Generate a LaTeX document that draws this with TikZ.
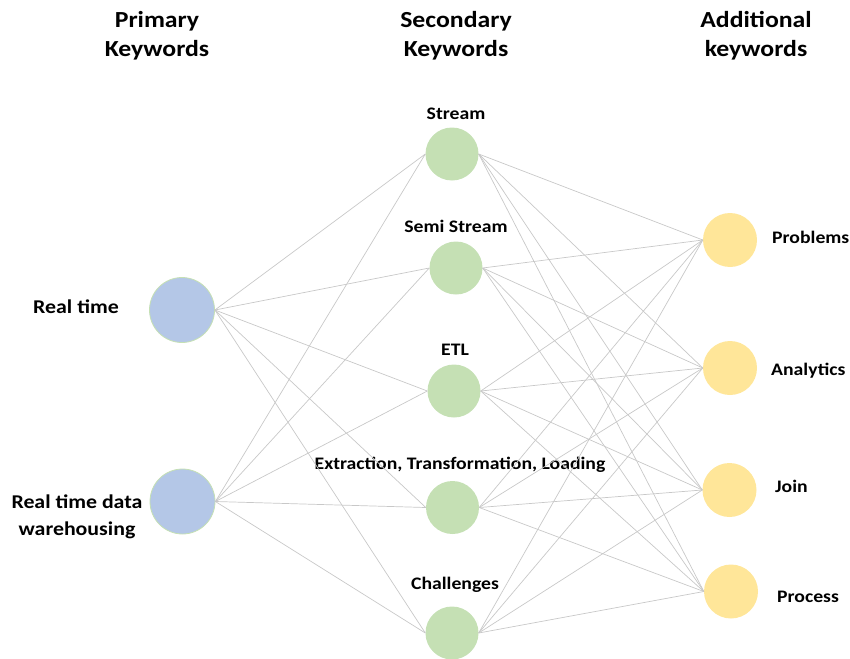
\documentclass[tikz,border=0pt]{standalone}
\usepackage{fontspec}
\setmainfont[FakeStretch=1.12]{Carlito}
\definecolor{primfill}{RGB}{180,199,231}
\definecolor{primedge}{RGB}{197,224,180}
\definecolor{secfill}{RGB}{197,224,180}
\definecolor{addfill}{RGB}{255,230,153}
\definecolor{linkgray}{RGB}{200,200,200}
\begin{document}
\begin{tikzpicture}[x=1pt,y=-1pt,
  kw/.style={circle, inner sep=0pt, minimum size=#1},
  prim/.style={kw=65pt, fill=primfill, draw=primedge, line width=0.8pt},
  sec/.style={kw=53pt, fill=secfill},
  add/.style={kw=54pt, fill=addfill},
  link/.style={draw=linkgray, line width=0.7pt},
  head/.style={font=\fontsize{23}{29}\selectfont\bfseries, align=center},
  plbl/.style={font=\fontsize{19.5}{27}\selectfont\bfseries, align=center},
  lbl/.style={font=\fontsize{17.6}{20}\selectfont\bfseries, anchor=base},
  rlbl/.style={lbl, anchor=base west, inner sep=0pt}]
\useasboundingbox (0,0) rectangle (850,658);

% column headings
\node[head] (hp) at (157,36) {Primary\\Keywords};
\node[head] (hs) at (456,36) {Secondary\\Keywords};
\node[head] (ha) at (756,36) {Additional\\keywords};

% primary keywords
\node[prim] (p1) at (182,310) {};
\node[prim] (p2) at (182.5,501.5) {};
\node[plbl, anchor=base] (lp1) at (76,313) {Real time};
\node[plbl] (lp2) at (77,516.5) {Real time data\\warehousing};

% secondary keywords
\node[sec] (s1) at (452,154) {};
\node[sec] (s2) at (456,268) {};
\node[sec] (s3) at (454,391) {};
\node[sec] (s4) at (452.5,507.5) {};
\node[sec] (s5) at (452,633) {};
\node[lbl] (ls1) at (456,119.5) {Stream};
\node[lbl] (ls2) at (456,232.7) {Semi Stream};
\node[lbl] (ls3) at (455,355) {ETL};
\node[lbl] (ls4) at (460,469.5) {Extraction, Transformation, Loading};
\node[lbl] (ls5) at (455,589) {Challenges};

% additional keywords
\node[add] (a1) at (730,240) {};
\node[add] (a2) at (730,368) {};
\node[add] (a3) at (729.5,490) {};
\node[add] (a4) at (731,591.5) {};
\node[rlbl] (la1) at (772,243.5) {Problems};
\node[rlbl] (la2) at (771,375) {Analytics};
\node[rlbl] (la3) at (775,492) {Join};
\node[rlbl] (la4) at (777,602) {Process};

% connectors
\begin{scope}[on background layer/.try]
\foreach \p in {p1,p2}
  \foreach \s in {s1,s2,s3,s4,s5}
    \draw[link] (\p.east) -- (\s.west);
\foreach \s in {s1,s2,s3,s4,s5}
  \foreach \a in {a1,a2,a3,a4}
    \draw[link] (\s.east) -- (\a.west);
\end{scope}
\end{tikzpicture}
\end{document}
